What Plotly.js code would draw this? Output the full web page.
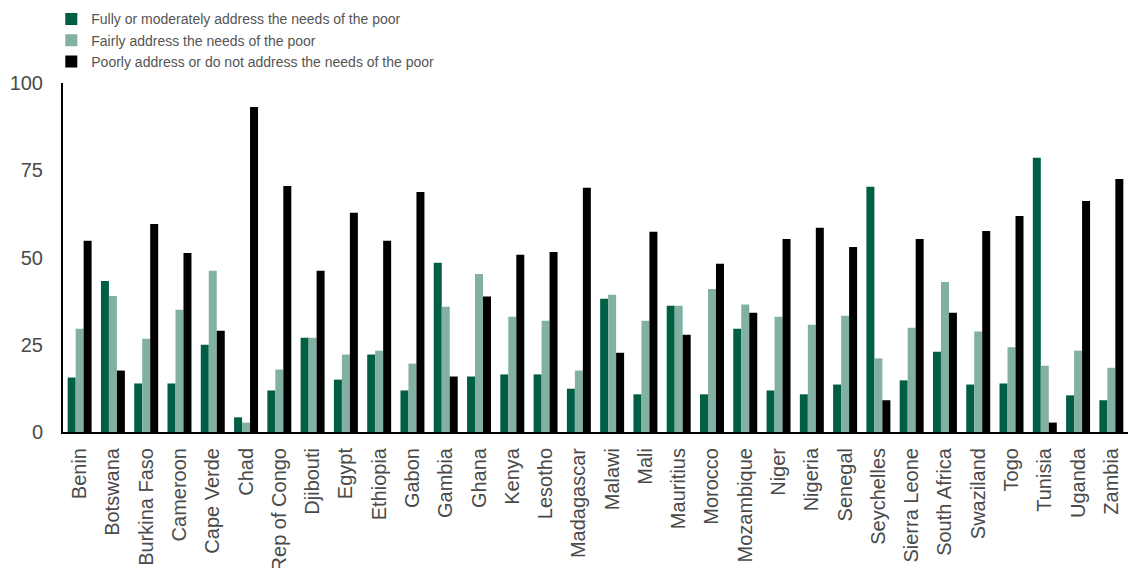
<!DOCTYPE html>
<html><head><meta charset="utf-8">
<script src="https://cdn.plot.ly/plotly-3.0.1.min.js"></script>
<style>html,body{margin:0;padding:0;background:#fff}#chart{width:1128px;height:568px}</style>
</head><body><div id="chart"></div>
<script>
const countries = ["Benin","Botswana","Burkina Faso","Cameroon","Cape Verde","Chad","Rep of Congo","Djibouti","Egypt","Ethiopia","Gabon","Gambia","Ghana","Kenya","Lesotho","Madagascar","Malawi","Mali","Mauritius","Morocco","Mozambique","Niger","Nigeria","Senegal","Seychelles","Sierra Leone","South Africa","Swaziland","Togo","Tunisia","Uganda","Zambia"];
const fully = [15.6,43.3,13.9,13.9,25.0,4.2,11.9,27.0,15.0,22.2,11.9,48.5,15.9,16.5,16.5,12.4,38.2,10.8,36.2,10.8,29.6,11.9,10.8,13.6,70.3,14.8,23.0,13.6,13.9,78.6,10.5,9.1];
const fairly = [29.6,39.0,26.7,35.0,46.2,2.7,17.9,27.0,22.2,23.3,19.6,35.9,45.3,33.0,31.9,17.6,39.3,31.9,36.2,41.0,36.5,33.0,30.7,33.3,21.1,29.9,43.0,28.8,24.3,19.0,23.3,18.4];
const poorly = [54.8,17.6,59.6,51.3,29.0,93.1,70.5,46.2,62.8,54.8,68.8,15.9,38.8,50.8,51.6,70.0,22.7,57.4,27.9,48.2,34.2,55.3,58.5,53.0,9.1,55.3,34.2,57.6,61.9,2.7,66.2,72.5];
const seriesNames = ["Fully or moderately address the needs of the poor","Fairly address the needs of the poor","Poorly address or do not address the needs of the poor"];
const colors = ["#005e44","#82b0a2","#000000"];
const yTicks = [0,25,50,75,100];

const font = {family:"Liberation Sans, Arial, sans-serif", color:"#4a4a4a"};
const data = [fully, fairly, poorly].map((v,i)=>({
  type:"bar", x:countries, y:v, name:seriesNames[i], marker:{color:colors[i]}
}));
const layout = {
  width:1128, height:568,
  margin:{l:63, r:0, t:83, b:135.5},
  paper_bgcolor:"#fff", plot_bgcolor:"#fff",
  barmode:"group", bargap:0.28, bargroupgap:0,
  showlegend:true,
  legend:{x:-0.011, y:1.228, xanchor:"left", yanchor:"top", font:{...font, size:14, color:"#555"}, tracegroupgap:0, itemclick:false},
  xaxis:{type:"category", tickangle:-90, tickfont:{...font, size:20}, showline:true, linecolor:"#000", linewidth:2, ticks:"", showgrid:false, zeroline:false, ticklabelstandoff:6},
  yaxis:{range:[0,100], tickvals:yTicks, ticktext:yTicks.map(String), tickfont:{...font, size:20}, showline:true, linecolor:"#000", linewidth:2, ticks:"", showgrid:false, zeroline:false, ticklabelstandoff:14},
  font:font
};
Plotly.newPlot("chart", data, layout, {displayModeBar:false, staticPlot:true});
</script></body></html>
